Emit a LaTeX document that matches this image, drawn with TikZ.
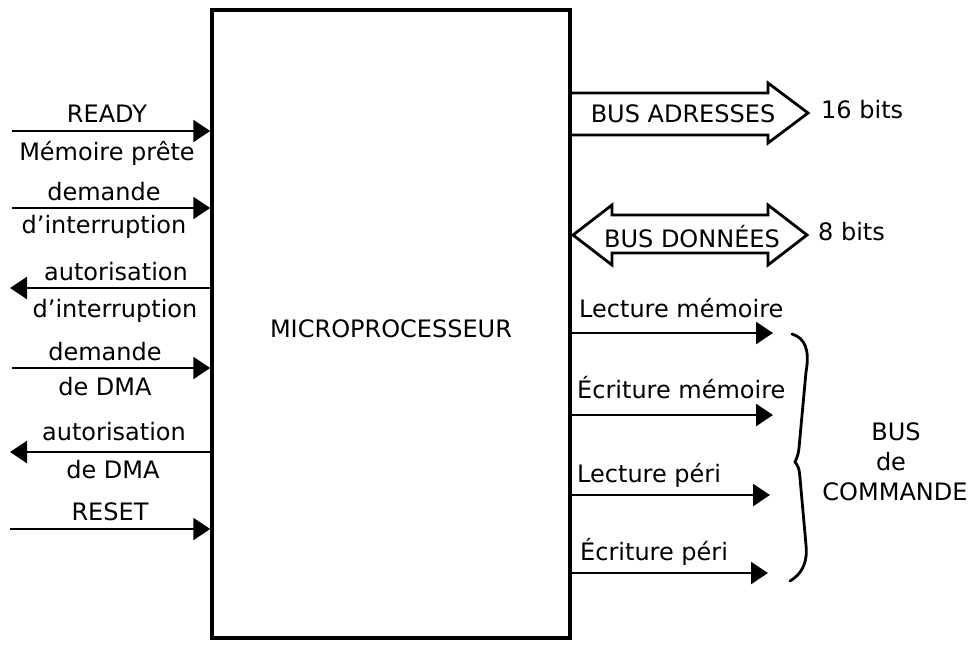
\documentclass[tikz,border=0pt]{standalone}
\usepackage{fontspec}
\setmainfont{DejaVu Sans}
\usetikzlibrary{arrows.meta}
\begin{document}
\begin{tikzpicture}[x=1pt,y=-1pt,
  lbl/.style={font=\fontsize{24}{28}\selectfont, inner sep=0pt, anchor=base},
  lblw/.style={lbl, anchor=base west},
  sig/.style={line width=2.6pt, -{Triangle[length=17pt,width=22pt]}},
  bus/.style={line width=2.8pt, fill=white, line join=miter},
  brc/.style={line width=2.8pt, line cap=round}]
\useasboundingbox (0,0) rectangle (978,654);
% bus arrows (drawn first, box line over them)
\draw[bus] (571,93) -- (768,93) -- (768,83) -- (808,113) -- (768,143) -- (768,135) -- (571,135);
\draw[bus] (573,235) -- (612,205) -- (612,215) -- (768,215) -- (768,205) -- (807,235) -- (768,265) -- (768,253) -- (612,253) -- (612,265) -- cycle;
% microprocessor box
\node[draw, line width=3.5pt, minimum width=358pt, minimum height=628pt, inner sep=0pt] (mp) at (391,324) {};
\node[lbl] (mptxt) at (391,337) {MICROPROCESSEUR};
% left signals
\coordinate (a1) at (12,131);
\coordinate (a2) at (12,208);
\coordinate (a3) at (10,288);
\coordinate (a4) at (12,368);
\coordinate (a5) at (10,452);
\coordinate (a6) at (10,529);
\draw[sig] (a1) -- (a1 -| mp.west);
\draw[sig] (a2) -- (a2 -| mp.west);
\draw[sig] (a3 -| mp.west) -- (a3);
\draw[sig] (a4) -- (a4 -| mp.west);
\draw[sig] (a5 -| mp.west) -- (a5);
\draw[sig] (a6) -- (a6 -| mp.west);
\node[lbl] (t1) at (107,122) {READY};
\node[lbl] (t2) at (107,160) {Mémoire prête};
\node[lbl] (t3) at (104,200) {demande};
\node[lbl] (t4) at (104,233) {d’interruption};
\node[lbl] (t5) at (116,280) {autorisation};
\node[lbl] (t6) at (115,317) {d’interruption};
\node[lbl] (t7) at (105,360) {demande};
\node[lbl] (t8) at (105,395) {de DMA};
\node[lbl] (t9) at (114,440) {autorisation};
\node[lbl] (t10) at (113,478) {de DMA};
\node[lbl] (t11) at (110,520) {RESET};
% right buses
\node[lbl] (ba) at (683,122) {BUS ADRESSES};
\node[lblw] (b16) at (821,118) {16 bits};
\node[lbl] (bd) at (692,247) {BUS DONNÉES};
\node[lblw] (b8) at (818,240) {8 bits};
% command signals
\coordinate (c1) at (773,333);
\coordinate (c2) at (773,415);
\coordinate (c3) at (770,495);
\coordinate (c4) at (768,573);
\draw[sig] (c1 -| mp.east) -- (c1);
\draw[sig] (c2 -| mp.east) -- (c2);
\draw[sig] (c3 -| mp.east) -- (c3);
\draw[sig] (c4 -| mp.east) -- (c4);
\node[lblw] (l1) at (579,317) {Lecture mémoire};
\node[lblw] (l2) at (577,398) {Écriture mémoire};
\node[lblw] (l3) at (577,482) {Lecture péri};
\node[lblw] (l4) at (580,560) {Écriture péri};
% brace
\draw[brc] (792,334) .. controls (805,338) and (810,350) .. (806,372) -- (799,448) .. controls (798,455) .. (795,462) .. controls (799,468) .. (800,478) -- (806,545) .. controls (808,565) and (800,575) .. (790,581);
\node[lbl] (bc1) at (896,440) {BUS};
\node[lbl] (bc2) at (891,470) {de};
\node[lbl] (bc3) at (895,500) {COMMANDE};
\end{tikzpicture}
\end{document}
